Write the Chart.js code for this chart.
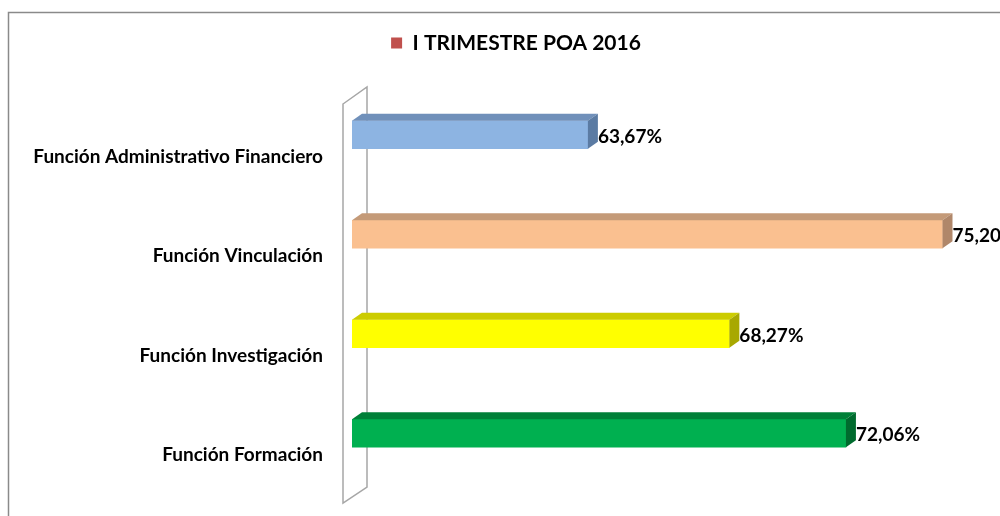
<!DOCTYPE html>
<html>
<head>
<meta charset="utf-8">
<script src="https://cdn.jsdelivr.net/npm/chart.js@4"></script>
<style>
  html, body { margin: 0; padding: 0; background: #fff; }
  #wrap { width: 1000px; height: 516px; }
</style>
</head>
<body>
<div id="wrap"><canvas id="grafico" width="1000" height="516"></canvas></div>
<script>
// datos del grafico
const categorias = [
  "Función Administrativo Financiero",
  "Función Vinculación",
  "Función Investigación",
  "Función Formación"
];
const valores = [63.67, 75.20, 68.27, 72.06];
const serie = "I TRIMESTRE POA 2016";

const coloresFrente = ["#8DB4E2", "#FAC090", "#FFFF00", "#00B050"];
const coloresArriba = ["#7090BA", "#C49A78", "#CCCC00", "#008038"];
const coloresLado = ["#5B7BA3", "#B0876A", "#A8A800", "#006B2E"];

const ejeMin = 56;
const ejeMax = 77.07;

const fuente = "Lato, 'Liberation Sans', sans-serif";
const PROF_X = 10;
const PROF_Y = 7;

// pared y marco + caras 3D
const fondo3d = {
  id: "fondo3d",
  beforeDatasetsDraw(chart) {
    const ctx = chart.ctx;
    const a = chart.chartArea;
    ctx.save();
    ctx.strokeStyle = "#8a8a8a";
    ctx.lineWidth = 1.5;
    ctx.strokeRect(8.5, 12.5, 1200, 700);

    ctx.strokeStyle = "#a6a6a6";
    ctx.lineWidth = 1.5;
    ctx.beginPath();
    ctx.moveTo(a.left - 9, a.top + 19);
    ctx.lineTo(a.left + 15, a.top + 2);
    ctx.lineTo(a.left + 15, a.bottom + 4);
    ctx.lineTo(a.left - 9, a.bottom + 20);
    ctx.closePath();
    ctx.stroke();
    ctx.restore();
  },
  afterDatasetsDraw(chart) {
    const ctx = chart.ctx;
    const a = chart.chartArea;
    const meta = chart.getDatasetMeta(0);
    ctx.save();
    meta.data.forEach((bar, i) => {
      const top = bar.y - bar.height / 2;
      const bottom = bar.y + bar.height / 2;
      const izq = Math.max(bar.base, a.left);
      const der = bar.x;

      ctx.fillStyle = coloresArriba[i];
      ctx.beginPath();
      ctx.moveTo(izq, top);
      ctx.lineTo(izq + PROF_X, top - PROF_Y);
      ctx.lineTo(der + PROF_X, top - PROF_Y);
      ctx.lineTo(der, top);
      ctx.closePath();
      ctx.fill();

      ctx.fillStyle = coloresLado[i];
      ctx.beginPath();
      ctx.moveTo(der, top);
      ctx.lineTo(der + PROF_X, top - PROF_Y);
      ctx.lineTo(der + PROF_X, bottom - PROF_Y);
      ctx.lineTo(der, bottom);
      ctx.closePath();
      ctx.fill();

      ctx.fillStyle = "#000";
      ctx.font = "bold 19px " + fuente;
      ctx.textAlign = "left";
      ctx.textBaseline = "middle";
      const texto = valores[i].toFixed(2).replace(".", ",") + "%";
      ctx.fillText(texto, der + PROF_X, bar.y + 2);
    });
    ctx.restore();
  }
};

const ctx = document.getElementById("grafico");

new Chart(ctx, {
  type: "bar",
  data: {
    labels: categorias,
    datasets: [{
      label: serie,
      data: valores,
      backgroundColor: coloresFrente,
      borderWidth: 0,
      barThickness: 28
    }]
  },
  options: {
    indexAxis: "y",
    responsive: false,
    animation: false,
    layout: { padding: { left: 32, right: 0, top: 0, bottom: 33 } },
    scales: {
      x: {
        position: "top",
        min: ejeMin,
        max: ejeMax,
        grid: { display: false },
        border: { display: false },
        ticks: { display: false },
        afterFit(scale) { scale.height = 21.5; }
      },
      y: {
        grid: { display: false },
        border: { display: false },
        ticks: {
          color: "#000",
          font: { family: fuente, size: 19, weight: "bold" },
          padding: 21,
          labelOffset: 22
        },
        afterFit(scale) { scale.width = 320; }
      }
    },
    plugins: {
      legend: {
        position: "top",
        labels: {
          color: "#000",
          boxWidth: 11,
          boxHeight: 11,
          padding: 32.5,
          font: { family: fuente, size: 21, weight: "bold" },
          generateLabels(chart) {
            return [{
              text: serie,
              fillStyle: "#C0504D",
              strokeStyle: "#C0504D",
              lineWidth: 0,
              datasetIndex: 0
            }];
          }
        }
      },
      tooltip: { enabled: false }
    }
  },
  plugins: [fondo3d]
});
</script>
</body>
</html>
